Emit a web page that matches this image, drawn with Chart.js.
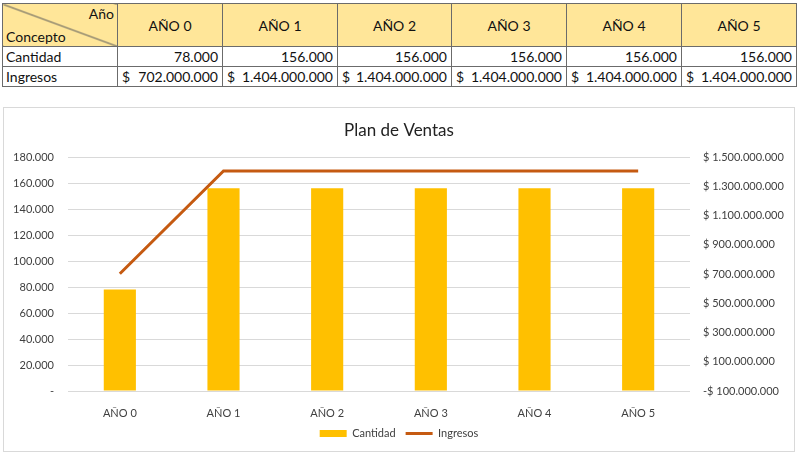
<!DOCTYPE html>
<html>
<head>
<meta charset="utf-8">
<script src="https://cdn.jsdelivr.net/npm/chart.js@4/dist/chart.umd.min.js"></script>
<style>
  html, body { margin:0; padding:0; background:#fff; width:800px; height:455px; overflow:hidden; font-family: Lato, "Open Sans", sans-serif; }
  #tbl { position:absolute; left:2px; top:3px; border-collapse:collapse; font-size:14px; color:#111; }
  #tbl td, #tbl th { border:1px solid #6b6b6b; padding:0 4px; white-space:nowrap; }
  #tbl th { background:#FFE699; font-weight:400; height:42px; text-align:center; }
  #tbl td { height:19px; text-align:right; }
  #tbl td.lbl { text-align:left; padding-left:3px; }
  #tbl th.corner { position:relative; padding:0;
    background: linear-gradient(to top right, #FFE699 calc(50% - 1px), #5a5a5a 50%, #FFE699 calc(50% + 1px)); }
  .corner .a { position:absolute; right:3px; top:1px; }
  .corner .c { position:absolute; left:3px; bottom:1px; }
  .acc { display:flex; justify-content:space-between; }
  #box { position:absolute; left:3px; top:107px; width:792px; height:345px; border:1px solid #d9d9d9; box-sizing:border-box; }
  #box canvas { display:block; }
</style>
</head>
<body>
<table id="tbl"></table>
<div id="box"><canvas id="c" width="790" height="343"></canvas></div>
<script>
const categories = ["AÑO 0", "AÑO 1", "AÑO 2", "AÑO 3", "AÑO 4", "AÑO 5"];
const cantidad = [78000, 156000, 156000, 156000, 156000, 156000];
const ingresos = [702000000, 1404000000, 1404000000, 1404000000, 1404000000, 1404000000];
const seriesNames = ["Cantidad", "Ingresos"];
const chartTitle = "Plan de Ventas";

function fmt(n) {
  return Math.abs(Math.round(n)).toString().replace(/\B(?=(\d{3})+(?!\d))/g, ".");
}

// table
const tbl = document.getElementById('tbl');
const colW = [115, 105, 115, 114, 115, 115, 115];
let html = '<colgroup>' + colW.map(w => '<col style="width:' + w + 'px">').join('') + '</colgroup>';
html += '<tr><th class="corner"><span class="a">Año</span><span class="c">Concepto</span></th>' +
  categories.map(c => '<th>' + c + '</th>').join('') + '</tr>';
html += '<tr><td class="lbl">' + seriesNames[0] + '</td>' + cantidad.map(v => '<td>' + fmt(v) + '</td>').join('') + '</tr>';
html += '<tr><td class="lbl">' + seriesNames[1] + '</td>' + ingresos.map(v => '<td><div class="acc"><span>$</span><span>' + fmt(v) + '</span></div></td>').join('') + '</tr>';
tbl.innerHTML = html;
tbl.style.tableLayout = 'fixed';
tbl.style.width = colW.reduce((a, b) => a + b, 0) + 'px';

const FONT = "Lato, 'Open Sans', sans-serif";
const tickColor = '#404040';

new Chart(document.getElementById('c'), {
  type: 'bar',
  data: {
    labels: categories,
    datasets: [
      {
        label: seriesNames[0],
        data: cantidad,
        backgroundColor: '#FFC000',
        borderWidth: 0,
        yAxisID: 'y',
        order: 2,
        pointStyle: 'rect',
        categoryPercentage: 1,
        barPercentage: 0.31
      },
      {
        type: 'line',
        label: seriesNames[1],
        data: ingresos,
        borderColor: '#C55A11',
        backgroundColor: '#C55A11',
        borderWidth: 3,
        pointRadius: 0,
        tension: 0,
        yAxisID: 'y1',
        order: 1,
        pointStyle: 'line'
      }
    ]
  },
  options: {
    responsive: false,
    animation: false,
    layout: { padding: { left: 0, right: 0, top: 0, bottom: 2 } },
    plugins: {
      title: {
        display: true,
        text: chartTitle,
        color: '#222222',
        font: { family: FONT, size: 17, weight: 'normal' },
        padding: { top: 12, bottom: 16.6 }
      },
      legend: {
        position: 'bottom',
        labels: {
          color: tickColor,
          font: { family: FONT, size: 11 },
          usePointStyle: true,
          pointStyleWidth: 27,
          boxHeight: 7,
          padding: 10,
          sort: (a, b) => a.datasetIndex - b.datasetIndex
        }
      },
      tooltip: { enabled: false }
    },
    scales: {
      x: {
        grid: { display: false },
        border: { display: false },
        ticks: { color: tickColor, font: { family: FONT, size: 11 }, padding: 8 },
        afterFit: s => { s.height = 27; }
      },
      y: {
        position: 'left',
        min: 0, max: 180000,
        ticks: {
          stepSize: 20000,
          color: tickColor,
          font: { family: FONT, size: 11 },
          padding: 14,
          callback: v => v === 0 ? '-' : fmt(v)
        },
        grid: { color: '#d9d9d9', drawTicks: false, lineWidth: 1 },
        border: { display: false },
        afterFit: s => { s.width = 64; }
      },
      y1: {
        position: 'right',
        min: -100000000, max: 1500000000,
        ticks: {
          stepSize: 200000000,
          color: tickColor,
          font: { family: FONT, size: 11 },
          padding: 13,
          callback: v => (v < 0 ? '-$ ' : '$ ') + fmt(v)
        },
        grid: { display: false, drawTicks: false },
        border: { display: false },
        afterFit: s => { s.width = 104; }
      }
    }
  }
});
</script>
</body>
</html>
